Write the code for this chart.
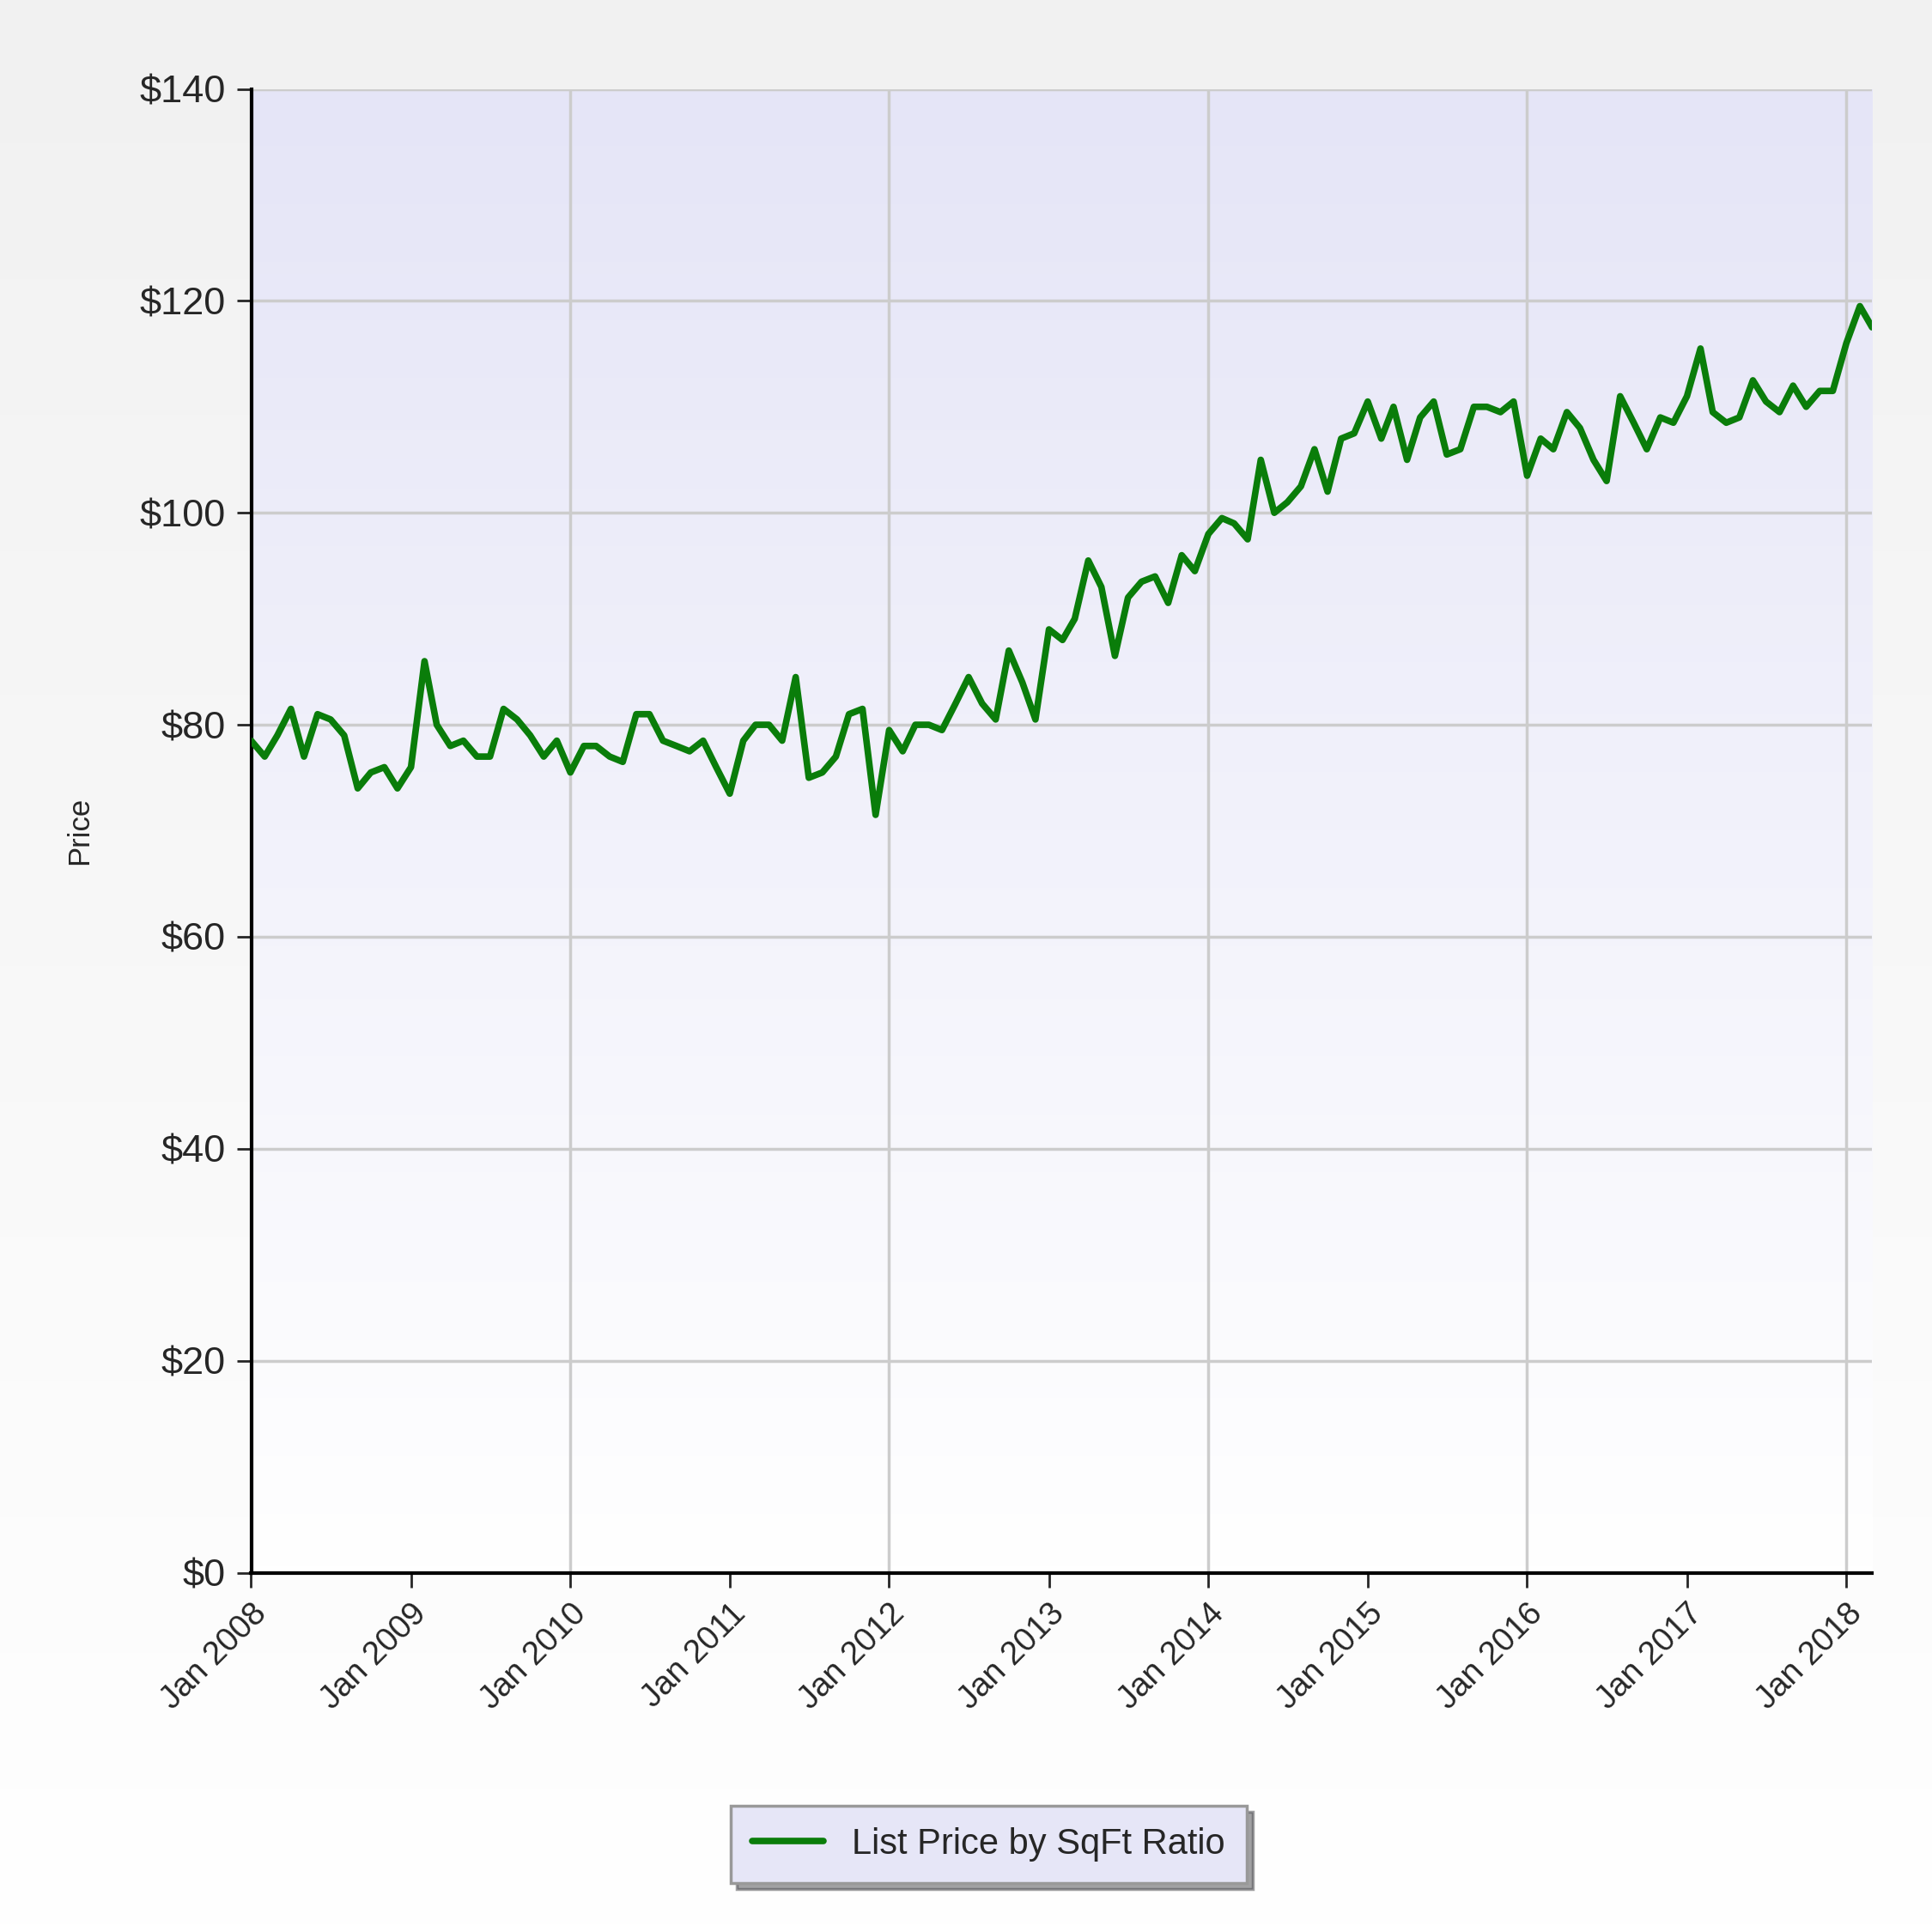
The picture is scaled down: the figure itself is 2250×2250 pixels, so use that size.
import numpy as np, pandas as pd, matplotlib
matplotlib.use("Agg")
import matplotlib.pyplot as plt, seaborn as sns
from matplotlib.ticker import FuncFormatter

values = [78.5,77,79,81.5,77,81,80.5,79,74,75.5,76,74,
 76,86,80,78,78.5,77,77,81.5,80.5,79,77,78.5,
 75.5,78,78,77,76.5,81,81,78.5,78,77.5,78.5,76,
 73.5,78.5,80,80,78.5,84.5,75,75.5,77,81,81.5,71.5,
 79.5,77.5,80,80,79.5,82,84.5,82,80.5,87,84,80.5,
 89,88,90,95.5,93,86.5,92,93.5,94,91.5,96,94.5,
 98,99.5,99,97.5,105,100,101,102.5,106,102,107,107.5,
 110.5,107,110,105,109,110.5,105.5,106,110,110,109.5,110.5,
 103.5,107,106,109.5,108,105,103,111,108.5,106,109,108.5,
 111,115.5,109.5,108.5,109,112.5,110.5,109.5,112,110,111.5,111.5,
 116,119.5,117.5]
dates = pd.date_range("2008-01-01", periods=len(values), freq="MS")
df = pd.DataFrame({"date": dates, "price": values})
tick_years = list(range(2008, 2019))
grid_years = list(range(2008, 2019, 2))

sns.set_style("white")
plt.rcParams["font.family"] = ["Liberation Sans", "DejaVu Sans"]
fig = plt.figure(figsize=(9, 9), dpi=250)
bg = fig.add_axes([0, 0, 1, 1], zorder=-10)
grad = np.linspace(0, 1, 256).reshape(-1, 1)
bg.imshow(grad, aspect="auto", cmap=matplotlib.colors.LinearSegmentedColormap.from_list("g", ["#f1f1f1", "#ffffff"]), extent=[0, 1, 0, 1])
bg.axis("off")

ax = fig.add_axes([0.130, 0.186, 0.839, 0.768])
sns.lineplot(data=df, x="date", y="price", ax=ax, color="#0a7d0a", lw=2.2, label="List Price by SqFt Ratio", zorder=3)
ax.imshow(grad, aspect="auto", cmap=matplotlib.colors.LinearSegmentedColormap.from_list("a", ["#e5e5f7", "#ffffff"]),
          extent=[0, 1, 0, 1], transform=ax.transAxes, zorder=0)
ax.set_xlim(dates[0], dates[-1])
ax.set_ylim(0, 140)
ax.set_yticks(range(0, 141, 20))
ax.yaxis.set_major_formatter(FuncFormatter(lambda v, p: f"${v:.0f}"))
ax.set_xticks([pd.Timestamp(f"{y}-01-01") for y in tick_years])
ax.set_xticklabels([f"Jan {y}" for y in tick_years], rotation=45, ha="right", rotation_mode="anchor", fontsize=11)
ax.tick_params(axis="y", labelsize=13, length=5, left=True)
ax.tick_params(axis="x", length=5, bottom=True)
ax.grid(True, axis="y", color="#cccccc", lw=1)
for y in grid_years:
    ax.axvline(pd.Timestamp(f"{y}-01-01"), color="#cccccc", lw=1, zorder=1)
ax.set_axisbelow(True)
for s in ["top", "right"]:
    ax.spines[s].set_visible(False)
for s in ["left", "bottom"]:
    ax.spines[s].set_color("black"); ax.spines[s].set_linewidth(1.2)
ax.set_xlabel("")
ax.set_ylabel("Price", fontsize=10)
ax.yaxis.set_label_coords(-0.097, 0.5)
leg = ax.legend(loc="center", bbox_to_anchor=(0.455, -0.183), fontsize=12, frameon=True,
                fancybox=False, shadow=True, facecolor="#e6e6f7", edgecolor="#999999",
                handlelength=2.0, borderpad=0.6)
fig.savefig("out.png", dpi=250)
